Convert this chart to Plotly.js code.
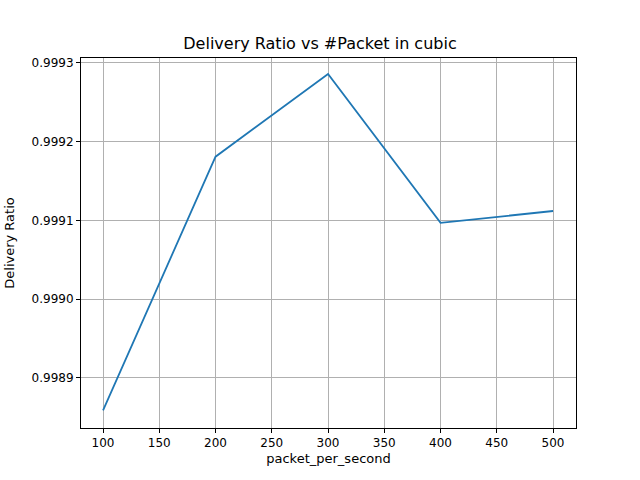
<!DOCTYPE html>
<html>
<head>
<script src="https://cdn.plot.ly/plotly-3.0.1.min.js"></script>
<style>body{margin:0}</style>
</head>
<body>
<div id="graph" style="width:640px;height:480px"></div>
<script>
const packets = [100, 200, 300, 400, 500];
const ratio = [0.998859, 0.999181, 0.999286, 0.999097, 0.999112];

const trace = {
  x: packets,
  y: ratio,
  mode: 'lines',
  line: { color: '#1f77b4', width: 1.8 }
};

const axisStyle = {
  showline: true, mirror: true, linecolor: '#000', linewidth: 1,
  ticks: 'outside', ticklen: 4, tickcolor: '#000',
  showgrid: true, gridcolor: '#b0b0b0', gridwidth: 1,
  zeroline: false,
  tickfont: { family: 'DejaVu Sans', size: 12, color: '#000' }
};

const layout = {
  width: 640, height: 480,
  margin: { l: 81, r: 64, t: 58, b: 52 },
  showlegend: false,
  plot_bgcolor: '#fff', paper_bgcolor: '#fff',
  title: { text: 'Delivery Ratio vs #Packet in cubic', x: 0.5, y: 0.922, font: { family: 'DejaVu Sans', size: 16, color: '#000' } },
  xaxis: Object.assign({}, axisStyle, {
    range: [80.4, 520.4], tickvals: [100, 150, 200, 250, 300, 350, 400, 450, 500],
    title: { text: 'packet_per_second', standoff: 4, font: { family: 'DejaVu Sans', size: 13, color: '#000' } }
  }),
  yaxis: Object.assign({}, axisStyle, {
    range: [0.9988365, 0.9993063],
    tickvals: [0.9989, 0.9990, 0.9991, 0.9992, 0.9993],
    tickformat: '.4f',
    title: { text: 'Delivery Ratio', standoff: 14, font: { family: 'DejaVu Sans', size: 13, color: '#000' } }
  })
};

Plotly.newPlot('graph', [trace], layout, { displayModeBar: false });
</script>
</body>
</html>
